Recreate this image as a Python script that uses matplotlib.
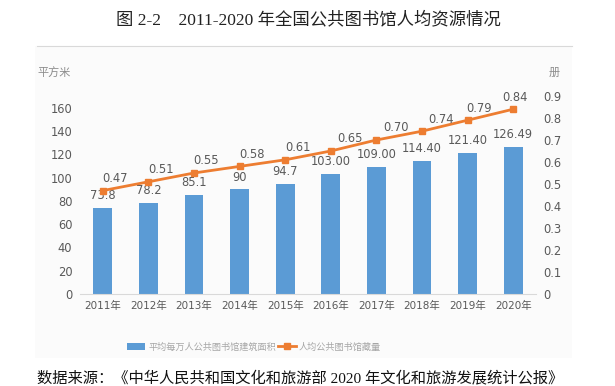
import matplotlib.pyplot as plt
from matplotlib.patches import Rectangle
from matplotlib.lines import Line2D
from matplotlib.patches import Patch

plt.rcParams['font.family'] = ['DejaVu Sans', 'Noto Sans CJK SC']

# data
years = ["2011年", "2012年", "2013年", "2014年", "2015年",
         "2016年", "2017年", "2018年", "2019年", "2020年"]
area = [73.8, 78.2, 85.1, 90, 94.7, 103.00, 109.00, 114.40, 121.40, 126.49]
area_labels = ["73.8", "78.2", "85.1", "90", "94.7",
               "103.00", "109.00", "114.40", "121.40", "126.49"]
books = [0.47, 0.51, 0.55, 0.58, 0.61, 0.65, 0.70, 0.74, 0.79, 0.84]
books_labels = ["0.47", "0.51", "0.55", "0.58", "0.61",
                "0.65", "0.70", "0.74", "0.79", "0.84"]

BLUE = "#5B9BD5"
ORANGE = "#ED7D31"
GRAY = "#595959"
serif = ['Liberation Serif', 'Noto Sans CJK SC']
cjk = ['Noto Sans CJK SC', 'DejaVu Sans']

fig = plt.figure(figsize=(6.15, 3.86), dpi=100)

# light panel behind the chart
fig.patches.append(Rectangle((35 / 615, 1 - 358 / 386), 537 / 615, 312 / 386,
                             transform=fig.transFigure, facecolor="#fbfbfb",
                             edgecolor="none", zorder=-10))
fig.lines.append(Line2D([37 / 615, 572 / 615], [1 - 46 / 386, 1 - 46 / 386],
                        transform=fig.transFigure, color="#d9d9d9", lw=0.8,
                        zorder=-5))

ax = fig.add_axes([80 / 615, 1 - 294 / 386, 456 / 615, 198 / 386])
ax.patch.set_alpha(0)
x = list(range(len(years)))
ax.bar(x, area, width=0.41, color=BLUE, zorder=2)
ax.set_xlim(-0.5, 9.5)
ax.set_ylim(0, 170)
ax.set_yticks(range(0, 161, 20))
ax.set_xticks(x)
ax.set_xticklabels(years)
for s in ["top", "right", "left"]:
    ax.spines[s].set_visible(False)
ax.spines["bottom"].set_color("#d9d9d9")
ax.tick_params(length=0, colors=GRAY)
ax.tick_params(axis="y", labelsize=8.3, pad=5.5)
ax.tick_params(axis="x", labelsize=7.5, pad=5)
for xi, v, t in zip(x, area, area_labels):
    ax.annotate(t, (xi, v), xytext=(0, 4), textcoords="offset points",
                ha="center", va="bottom", fontsize=8.3, color=GRAY, zorder=3)

ax2 = ax.twinx()
ax2.plot(x, books, color=ORANGE, lw=2, marker="s", ms=5, zorder=4)
ax2.set_ylim(0, 0.9)
ax2.set_yticks([i / 10 for i in range(10)])
ax2.set_yticklabels(["0", "0.1", "0.2", "0.3", "0.4", "0.5", "0.6", "0.7", "0.8", "0.9"])
for s in ["top", "right", "left", "bottom"]:
    ax2.spines[s].set_visible(False)
ax2.tick_params(length=0, colors=GRAY, labelsize=8.3, pad=5)
label_dx = [9, 9, 9, 9, 9, 14, 14, 14, 8, 1]
for xi, v, t, dx in zip(x, books, books_labels, label_dx):
    ax2.annotate(t, (xi, v), xytext=(dx, 4), textcoords="offset points",
                 ha="center", va="bottom", fontsize=8.3, color=GRAY, zorder=5)

fig.text(54 / 615, 1 - 72 / 386, "平方米", ha="center", va="center",
         fontsize=8, color="#8c8c8c", family=cjk)
fig.text(554 / 615, 1 - 73 / 386, "册", ha="center", va="center",
         fontsize=8, color="#8c8c8c", family=cjk)

handles = [Patch(facecolor=BLUE, edgecolor="none"),
           Line2D([], [], color=ORANGE, lw=2, marker="s", ms=4)]
fig.legend(handles, ["平均每万人公共图书馆建筑面积", "人均公共图书馆藏量"],
           loc="center", bbox_to_anchor=(254 / 615, 1 - 347 / 386), ncol=2,
           frameon=False, prop={'family': cjk, 'size': 6.6}, labelcolor="#a6a6a6",
           handlelength=2.0, handletextpad=0.3, columnspacing=0.2)

fig.text(308 / 615, 1 - 20 / 386, "图 2-2    2011-2020 年全国公共图书馆人均资源情况",
         ha="center", va="center", fontsize=12.5, family=serif, color="#222222")
fig.text(37 / 615, 1 - 378 / 386,
         "数据来源：《中华人民共和国文化和旅游部 2020 年文化和旅游发展统计公报》",
         ha="left", va="center", fontsize=11, family=serif, color="#111111")

fig.savefig("out.png", dpi=100)
